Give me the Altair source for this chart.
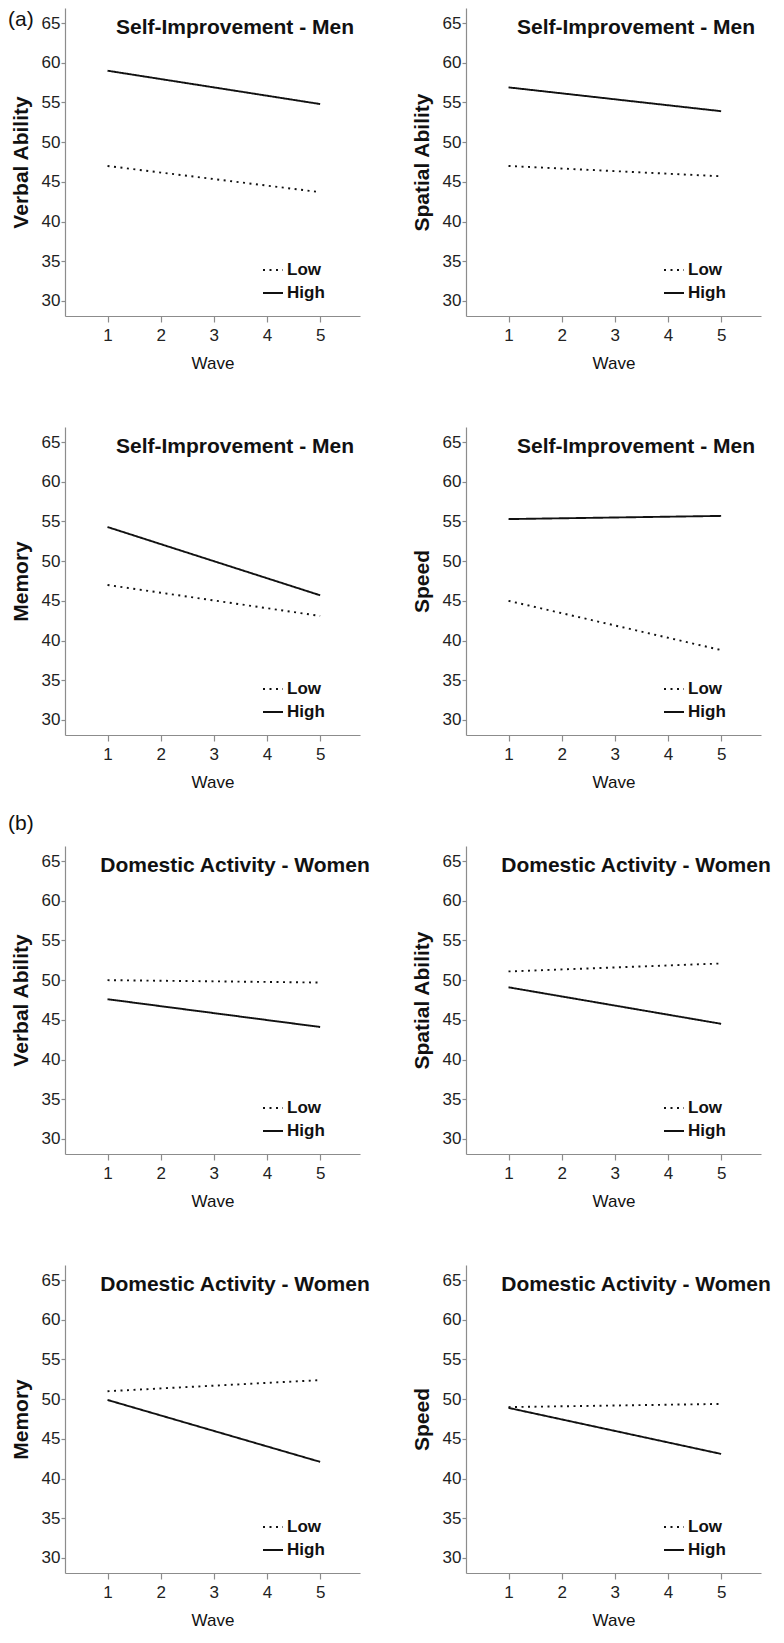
import altair as alt
import pandas as pd

FONT = "Liberation Sans"
INK = "#111111"

waves = [1, 5]
levels = ["Low", "High"]
x_ticks = [1, 2, 3, 4, 5]
y_ticks = [30, 35, 40, 45, 50, 55, 60, 65]

# (a) Self-Improvement - Men
men_verbal_low = [47.0, 43.7]
men_verbal_high = [59.0, 54.8]
men_spatial_low = [47.0, 45.7]
men_spatial_high = [56.9, 53.9]
men_memory_low = [47.0, 43.1]
men_memory_high = [54.3, 45.7]
men_speed_low = [45.0, 38.8]
men_speed_high = [55.3, 55.7]

# (b) Domestic Activity - Women
women_verbal_low = [50.0, 49.7]
women_verbal_high = [47.6, 44.1]
women_spatial_low = [51.1, 52.1]
women_spatial_high = [49.1, 44.5]
women_memory_low = [51.0, 52.4]
women_memory_high = [49.9, 42.1]
women_speed_low = [49.0, 49.4]
women_speed_high = [48.9, 43.1]

panel_titles = ["Self-Improvement - Men"] * 4 + ["Domestic Activity - Women"] * 4
y_titles = ["Verbal Ability", "Spatial Ability", "Memory", "Speed"] * 2
low_series = [men_verbal_low, men_spatial_low, men_memory_low, men_speed_low,
              women_verbal_low, women_spatial_low, women_memory_low, women_speed_low]
high_series = [men_verbal_high, men_spatial_high, men_memory_high, men_speed_high,
               women_verbal_high, women_spatial_high, women_memory_high, women_speed_high]
section_labels = {0: "(a)", 4: "(b)"}
section_y = {0: 12, 4: -22}

W, H = 295, 308


def panel(i):
    df = pd.DataFrame({
        "Wave": waves * 2,
        "Score": low_series[i] + high_series[i],
        "Level": ["Low"] * 2 + ["High"] * 2,
    })
    lines = alt.Chart(df).mark_line(color=INK, strokeWidth=1.9).encode(
        x=alt.X("Wave:Q",
                scale=alt.Scale(domain=[0.2, 5.75], nice=False, zero=False),
                axis=alt.Axis(values=x_ticks, title="Wave", tickSize=6,
                              labelFontSize=17, labelPadding=5,
                              titleFontSize=17, titleFontWeight="normal",
                              titlePadding=12)),
        y=alt.Y("Score:Q",
                scale=alt.Scale(domain=[28.1, 66.9], nice=False, zero=False),
                axis=alt.Axis(values=y_ticks, title=y_titles[i], tickSize=4,
                              labelFontSize=17, labelPadding=1,
                              titleFontSize=21, titleFontWeight="bold",
                              titlePadding=10)),
        strokeDash=alt.StrokeDash(
            "Level:N",
            scale=alt.Scale(domain=levels, range=[[2, 4.5], [1, 0]]),
            legend=alt.Legend(title=None, orient="none", legendX=197, legendY=251,
                              direction="vertical", symbolType="stroke",
                              symbolSize=400, symbolStrokeWidth=1.9,
                              symbolStrokeColor=INK, labelFont=FONT,
                              labelFontSize=17, labelFontWeight="bold",
                              labelColor=INK, labelOffset=3, rowPadding=4,
                              padding=0),
        ),
    )
    ttl = alt.Chart(pd.DataFrame({"t": [panel_titles[i]]})).mark_text(
        font=FONT, fontSize=21, fontWeight="bold", color=INK,
        align="center", baseline="middle",
    ).encode(text="t:N", x=alt.value(170), y=alt.value(20))
    layers = [lines, ttl]
    if i in section_labels:
        sec = alt.Chart(pd.DataFrame({"t": [section_labels[i]]})).mark_text(
            font=FONT, fontSize=21, color=INK, align="left", baseline="middle",
        ).encode(text="t:N", x=alt.value(-57), y=alt.value(section_y[i]))
        layers.append(sec)
    return alt.layer(*layers).properties(width=W, height=H)


panels = [panel(i) for i in range(8)]

chart = alt.concat(
    *panels, columns=2, spacing={"row": 111, "column": 106}, bounds="flush"
).resolve_scale(
    strokeDash="independent"
).resolve_legend(
    strokeDash="independent"
).properties(
    padding=0
).configure_view(
    stroke=None
).configure_axis(
    grid=False, domainColor="#8c8c8c", tickColor="#8c8c8c",
    domainWidth=1.2, tickWidth=1.2, labelColor="#222222", titleColor=INK,
    labelFont=FONT, titleFont=FONT,
)

chart.save("out.html", embed_options={"renderer": "svg", "actions": False})
